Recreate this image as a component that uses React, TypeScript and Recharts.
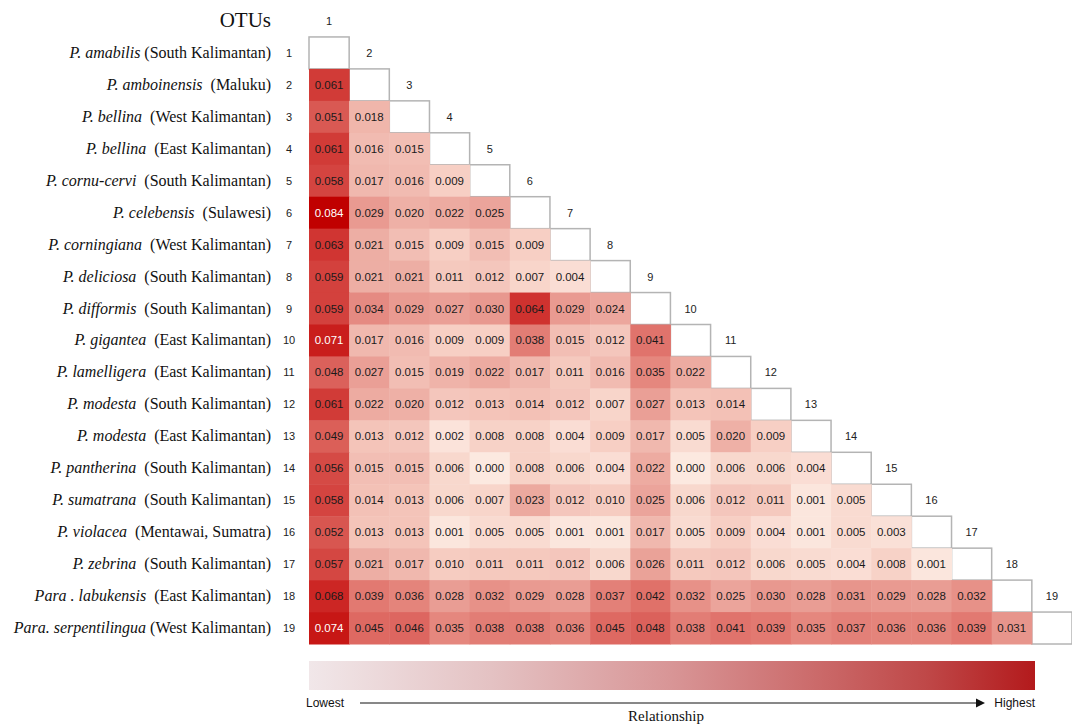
import React from 'react';
import { ScatterChart, Scatter, XAxis, YAxis } from 'recharts';

// OTU names (italic part) and locality
const species = [
  'P. amabilis', 'P. amboinensis', 'P. bellina', 'P. bellina', 'P. cornu-cervi',
  'P. celebensis', 'P. corningiana', 'P. deliciosa', 'P. difformis', 'P. gigantea',
  'P. lamelligera', 'P. modesta', 'P. modesta', 'P. pantherina', 'P. sumatrana',
  'P. violacea', 'P. zebrina', 'Para . labukensis', 'Para. serpentilingua',
];
const regions = [
  '(South Kalimantan)', '(Maluku)', '(West Kalimantan)', '(East Kalimantan)', '(South Kalimantan)',
  '(Sulawesi)', '(West Kalimantan)', '(South Kalimantan)', '(South Kalimantan)', '(East Kalimantan)',
  '(East Kalimantan)', '(South Kalimantan)', '(East Kalimantan)', '(South Kalimantan)', '(South Kalimantan)',
  '(Mentawai, Sumatra)', '(South Kalimantan)', '(East Kalimantan)', '(West Kalimantan)',
];

// lower triangle, row i holds values against OTUs 1..i-1
const distances: number[][] = [
  [],
  [0.061],
  [0.051, 0.018],
  [0.061, 0.016, 0.015],
  [0.058, 0.017, 0.016, 0.009],
  [0.084, 0.029, 0.020, 0.022, 0.025],
  [0.063, 0.021, 0.015, 0.009, 0.015, 0.009],
  [0.059, 0.021, 0.021, 0.011, 0.012, 0.007, 0.004],
  [0.059, 0.034, 0.029, 0.027, 0.030, 0.064, 0.029, 0.024],
  [0.071, 0.017, 0.016, 0.009, 0.009, 0.038, 0.015, 0.012, 0.041],
  [0.048, 0.027, 0.015, 0.019, 0.022, 0.017, 0.011, 0.016, 0.035, 0.022],
  [0.061, 0.022, 0.020, 0.012, 0.013, 0.014, 0.012, 0.007, 0.027, 0.013, 0.014],
  [0.049, 0.013, 0.012, 0.002, 0.008, 0.008, 0.004, 0.009, 0.017, 0.005, 0.020, 0.009],
  [0.056, 0.015, 0.015, 0.006, 0.000, 0.008, 0.006, 0.004, 0.022, 0.000, 0.006, 0.006, 0.004],
  [0.058, 0.014, 0.013, 0.006, 0.007, 0.023, 0.012, 0.010, 0.025, 0.006, 0.012, 0.011, 0.001, 0.005],
  [0.052, 0.013, 0.013, 0.001, 0.005, 0.005, 0.001, 0.001, 0.017, 0.005, 0.009, 0.004, 0.001, 0.005, 0.003],
  [0.057, 0.021, 0.017, 0.010, 0.011, 0.011, 0.012, 0.006, 0.026, 0.011, 0.012, 0.006, 0.005, 0.004, 0.008, 0.001],
  [0.068, 0.039, 0.036, 0.028, 0.032, 0.029, 0.028, 0.037, 0.042, 0.032, 0.025, 0.030, 0.028, 0.031, 0.029, 0.028, 0.032],
  [0.074, 0.045, 0.046, 0.035, 0.038, 0.038, 0.036, 0.045, 0.048, 0.038, 0.041, 0.039, 0.035, 0.037, 0.036, 0.036, 0.039, 0.031],
];

const otuIds = species.map((_, i) => i + 1);

const W = 1072;
const H = 725;
const PLOT_LEFT = 309;
const PLOT_TOP = 5;
const PLOT_BOTTOM = 644;
const CELL_W = (W - PLOT_LEFT) / 19;
const CELL_H = (PLOT_BOTTOM - PLOT_TOP) / 20;

const serif = '"Liberation Serif", "Times New Roman", serif';
const sans = '"Liberation Sans", Arial, sans-serif';

// colour stops for the heat scale
const colorStops: [number, number[]][] = [
  [0.0, [252, 233, 224]],
  [0.01, [246, 204, 193]],
  [0.02, [238, 176, 166]],
  [0.03, [232, 152, 143]],
  [0.04, [225, 118, 110]],
  [0.05, [218, 92, 86]],
  [0.06, [210, 62, 58]],
  [0.07, [202, 32, 30]],
  [0.084, [192, 0, 0]],
];

const heatColor = (v: number) => {
  for (let k = 1; k < colorStops.length; k++) {
    const [v1, c1] = colorStops[k];
    const [v0, c0] = colorStops[k - 1];
    if (v <= v1 || k === colorStops.length - 1) {
      const t = Math.max(0, Math.min(1, (v - v0) / (v1 - v0)));
      const c = c0.map((a, idx) => Math.round(a + (c1[idx] - a) * t));
      return `rgb(${c[0]},${c[1]},${c[2]})`;
    }
  }
  return '#fff';
};

const cellData = distances.flatMap((row, i) => row.map((v, j) => ({ x: j + 1, y: i + 1, v })));
const diagData = otuIds.map((id) => ({ x: id, y: id }));
const headerData = otuIds.map((id) => ({ x: id, y: id - 1, label: String(id) }));

const CellShape = (props: any) => {
  const { cx, cy, payload } = props;
  const v = payload.v as number;
  return (
    <g>
      <rect x={cx - CELL_W / 2} y={cy - CELL_H / 2} width={CELL_W + 0.5} height={CELL_H + 0.5} fill={heatColor(v)} />
      <text x={cx} y={cy} dy={4} textAnchor="middle" fontFamily={sans} fontSize={11.5}
        fill={v >= 0.07 ? '#ffffff' : '#1a1a1a'}>
        {v.toFixed(3)}
      </text>
    </g>
  );
};

const DiagShape = (props: any) => {
  const { cx, cy } = props;
  return (
    <rect x={cx - CELL_W / 2} y={cy - CELL_H / 2} width={CELL_W} height={CELL_H}
      fill="#ffffff" stroke="#b4b4b4" strokeWidth={1.5} />
  );
};

const HeaderShape = (props: any) => {
  const { cx, cy, payload } = props;
  return (
    <text x={cx} y={cy} dy={4} textAnchor="middle" fontFamily={sans} fontSize={11} fill="#222">
      {payload.label}
    </text>
  );
};

const RowTick = (props: any) => {
  const { y, payload } = props;
  const i = payload.value - 1;
  if (i < 0 || i >= species.length) return null;
  const gap = i === 0 || i === species.length - 1 ? 4 : 8;
  return (
    <g>
      <text x={271} y={y} dy={5} textAnchor="end" fontFamily={serif} fontSize={16} fill="#111">
        <tspan fontStyle="italic">{species[i]}</tspan>
        <tspan dx={gap}>{regions[i]}</tspan>
      </text>
      <text x={289} y={y} dy={4} textAnchor="middle" fontFamily={sans} fontSize={11} fill="#222">
        {payload.value}
      </text>
    </g>
  );
};

export default function App() {
  return (
    <div style={{ position: 'absolute', left: 0, top: 0, width: W, height: H, background: '#fff' }}>
      <ScatterChart width={W} height={H} margin={{ top: PLOT_TOP, right: 0, bottom: H - PLOT_BOTTOM, left: 0 }}>
        <XAxis type="number" dataKey="x" domain={[0.5, 19.5]} hide />
        <YAxis type="number" dataKey="y" domain={[-0.5, 19.5]} reversed ticks={otuIds}
          width={PLOT_LEFT} axisLine={false} tickLine={false} tick={<RowTick />} interval={0} />
        <Scatter data={diagData} shape={<DiagShape />} isAnimationActive={false} />
        <Scatter data={cellData} shape={<CellShape />} isAnimationActive={false} />
        <Scatter data={headerData} shape={<HeaderShape />} isAnimationActive={false} />
      </ScatterChart>
      <svg width={W} height={H} style={{ position: 'absolute', left: 0, top: 0, pointerEvents: 'none' }}>
        <defs>
          <linearGradient id="heatGrad" x1="0" y1="0" x2="1" y2="0">
            <stop offset="0%" stopColor="#f1e7e9" />
            <stop offset="25%" stopColor="#e4c2c3" />
            <stop offset="50%" stopColor="#d89596" />
            <stop offset="70%" stopColor="#cb6a6a" />
            <stop offset="85%" stopColor="#bf4848" />
            <stop offset="100%" stopColor="#b31a1c" />
          </linearGradient>
        </defs>
        <text x={271} y={27} textAnchor="end" fontFamily={serif} fontSize={21} fill="#111">OTUs</text>
        <rect x={309} y={661} width={726} height={29} fill="url(#heatGrad)" />
        <text x={306} y={707} fontFamily={sans} fontSize={12} fill="#111">Lowest</text>
        <line x1={360} y1={703} x2={976} y2={703} stroke="#111" strokeWidth={1} />
        <polygon points="976,698.5 985,703 976,707.5" fill="#111" />
        <text x={1035} y={707} textAnchor="end" fontFamily={sans} fontSize={12} fill="#111">Highest</text>
        <text x={666} y={721} textAnchor="middle" fontFamily={serif} fontSize={15} fill="#111">Relationship</text>
      </svg>
    </div>
  );
}
